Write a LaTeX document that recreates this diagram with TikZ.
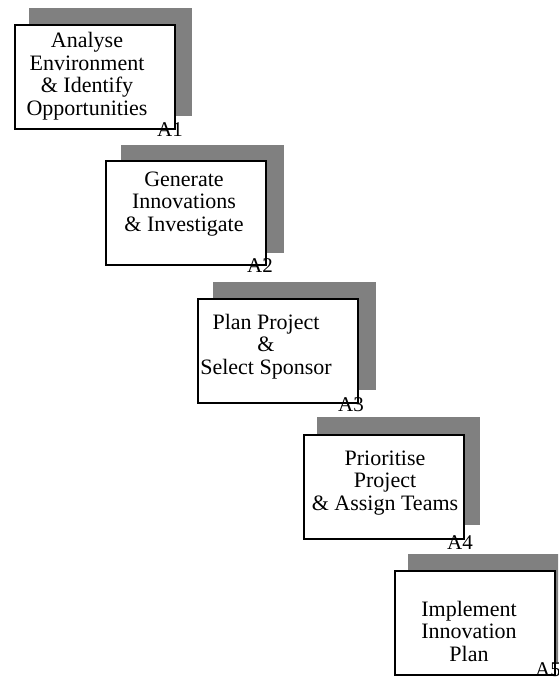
\documentclass[tikz,border=0pt]{standalone}
\usepackage{fontspec}
\setmainfont{Liberation Serif}
\begin{document}
\begin{tikzpicture}[x=1pt,y=-1pt,
  shadowbox/.style={fill=black!50,draw=none,inner sep=0pt,anchor=north west,minimum width=163pt,minimum height=108pt},
  stepbox/.style={fill=white,draw=black,line width=2pt,inner sep=0pt,anchor=north west,minimum width=160pt,minimum height=104pt},
  steptext/.style={font=\fontsize{22}{22.5}\selectfont,align=center,inner sep=0pt,anchor=base},
  steplabel/.style={font=\fontsize{21}{22}\selectfont,inner sep=0pt,anchor=base west}]
\useasboundingbox (0,0) rectangle (558,677);
\clip (0,0) rectangle (558,677);
% shadows
\node[shadowbox] (s1) at (29,8) {};
\node[shadowbox] (s2) at (121,145) {};
\node[shadowbox] (s3) at (213,282) {};
\node[shadowbox] (s4) at (317,417) {};
\node[shadowbox] (s5) at (408,554) {};
% boxes
\node[stepbox] (b1) at (14,24) {};
\node[stepbox] (b2) at (105,160) {};
\node[stepbox] (b3) at (197,298) {};
\node[stepbox] (b4) at (303,434) {};
\node[stepbox] (b5) at (394,570) {};
% texts (anchored at the baseline of the last line)
\node[steptext] (t1) at (87,115) {Analyse\\Environment\\\& Identify\\Opportunities};
\node[steptext] (t2) at (184,231) {Generate\\Innovations\\\& Investigate};
\node[steptext] (t3) at (266,374) {Plan Project\\\&\\Select Sponsor};
\node[steptext] (t4) at (385,510) {Prioritise\\Project\\\& Assign Teams};
\node[steptext] (t5) at (469,661) {Implement\\Innovation\\Plan};
% labels
\node[steplabel] (l1) at (157,136) {A1};
\node[steplabel] (l2) at (247,272) {A2};
\node[steplabel] (l3) at (338,411) {A3};
\node[steplabel] (l4) at (447,549) {A4};
\node[steplabel] (l5) at (535,676) {A5};
\end{tikzpicture}
\end{document}
